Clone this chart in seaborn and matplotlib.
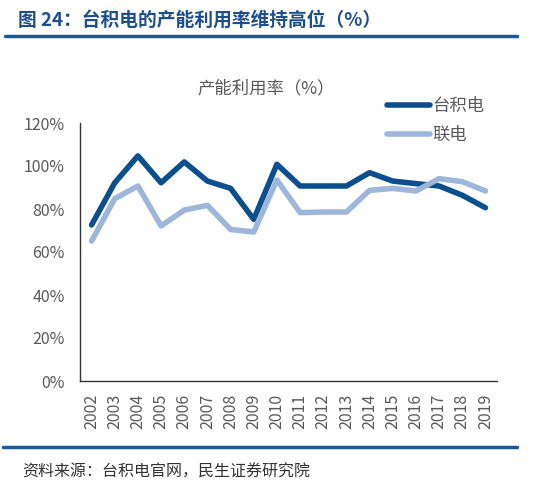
import numpy as np
import pandas as pd
import seaborn as sns
import matplotlib.pyplot as plt
from matplotlib.ticker import FixedLocator, PercentFormatter

years = [str(y) for y in range(2002, 2020)]
tsmc = [72.6, 92.2, 104.7, 92.2, 101.9, 93.0, 89.6, 75.2, 100.8,
        90.7, 90.7, 90.7, 96.9, 93.0, 91.8, 90.7, 86.4, 80.6]
umc = [65.1, 84.8, 90.7, 72.1, 79.5, 81.7, 70.5, 69.3, 93.5,
       78.3, 78.6, 78.6, 88.7, 89.6, 88.4, 94.1, 92.7, 88.4]
series_names = ['台积电', '联电']

df = pd.DataFrame({
    'year': years * 2,
    'value': tsmc + umc,
    'company': [series_names[0]] * len(years) + [series_names[1]] * len(years),
})

sns.set_style('white')
plt.rcParams['font.family'] = ['Noto Sans CJK SC', 'DejaVu Sans']

W, H = 541, 494
fig = plt.figure(figsize=(W / 100, H / 100), dpi=100)
ax = fig.add_axes([80 / W, 1 - 381 / H, (497 - 80) / W, (381 - 123) / H])

dark = '#0B4F8E'
light = '#9DB6DA'
grey = '#595959'

sns.lineplot(data=df, x='year', y='value', hue='company', palette=[dark, light],
             linewidth=4, ax=ax, sort=False)

ax.set_ylim(0, 120)
ax.set_xlim(-0.5, len(years) - 0.5)
ax.set_yticks(np.arange(0, 121, 20))
ax.yaxis.set_major_formatter(PercentFormatter(decimals=0))
ax.set_xticks(range(len(years)))
ax.set_xticklabels(years, rotation=90)
ax.xaxis.set_minor_locator(FixedLocator(np.arange(-0.5, len(years), 1)))
ax.tick_params(axis='x', which='major', length=0, pad=9, labelsize=11.5, colors=grey)
ax.tick_params(axis='x', which='minor', length=5, direction='in', color='#333333', width=1)
ax.tick_params(axis='y', length=5, direction='out', color='#333333', width=1,
               labelsize=11.5, colors=grey, pad=6)
ax.set_xlabel('')
ax.set_ylabel('')
for s in ['top', 'right']:
    ax.spines[s].set_visible(False)
for s in ['left', 'bottom']:
    ax.spines[s].set_color('#333333')
    ax.spines[s].set_linewidth(1)

handles, labels = ax.get_legend_handles_labels()
leg = ax.legend(handles, labels, loc='upper left', bbox_to_anchor=(378 / W, 1 - 88 / H),
                bbox_transform=fig.transFigure, frameon=False, fontsize=12.5,
                handlelength=2.5, handletextpad=0.15, labelspacing=0.65, borderpad=0)
for t in leg.get_texts():
    t.set_color(grey)

fig.text(266 / W, 1 - 88 / H, '产能利用率（%）', ha='center', va='center',
         fontsize=12.5, color=grey)

fig.text(18 / W, 1 - 20 / H, '图 24：台积电的产能利用率维持高位（%）', ha='left', va='center',
         fontsize=13.5, fontweight='bold', color='#1F4E8C')
fig.add_artist(plt.Line2D([5 / W, 517 / W], [1 - 36 / H, 1 - 36 / H],
                          color='#1A5A96', linewidth=2.5, transform=fig.transFigure))
fig.add_artist(plt.Line2D([3 / W, 517 / W], [1 - 447 / H, 1 - 447 / H],
                          color='#1A5A96', linewidth=2.5, transform=fig.transFigure))
fig.text(22 / W, 1 - 472 / H, '资料来源：台积电官网，民生证券研究院', ha='left', va='center',
         fontsize=11.5, color='#333333')

fig.savefig('out.png', dpi=100)
